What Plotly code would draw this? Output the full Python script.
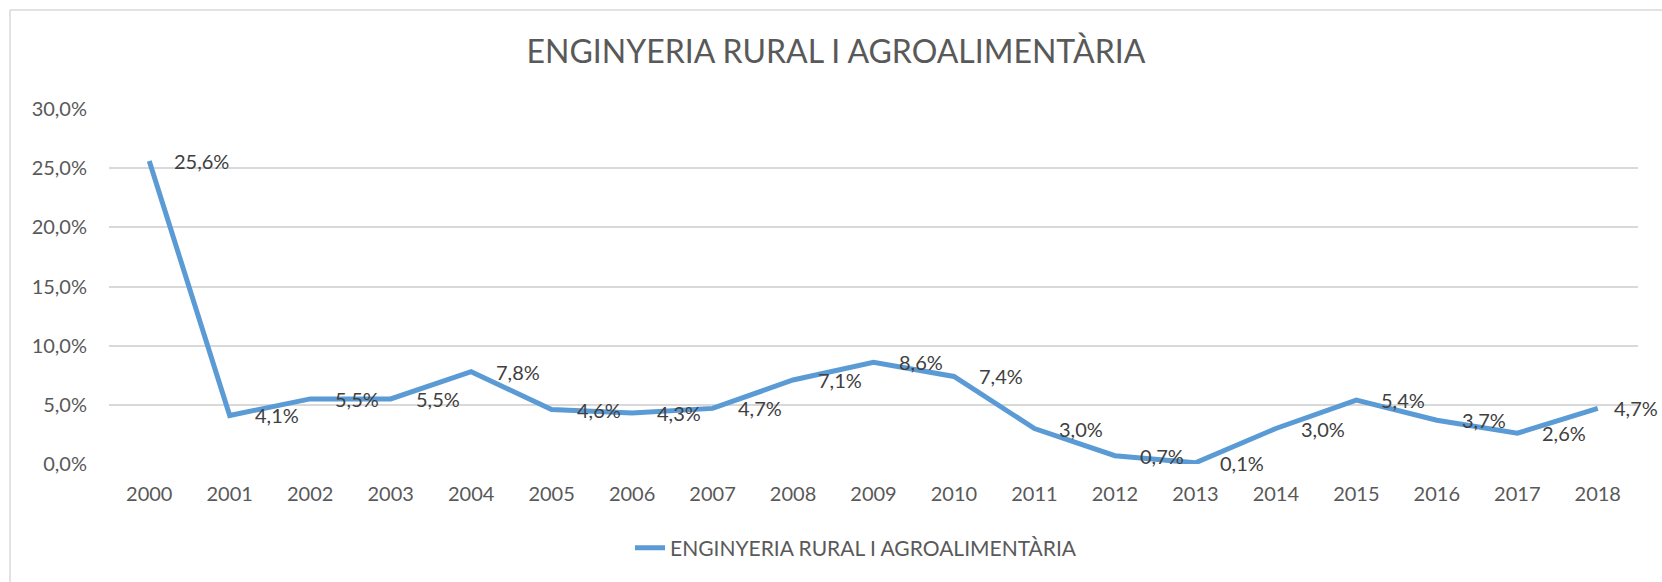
import plotly.graph_objects as go

years = list(range(2000, 2019))
values = [25.6, 4.1, 5.5, 5.5, 7.8, 4.6, 4.3, 4.7, 7.1, 8.6, 7.4, 3.0, 0.7, 0.1, 3.0, 5.4, 3.7, 2.6, 4.7]
labels = [f"{v:.1f}%".replace(".", ",") for v in values]
series_name = "ENGINYERIA RURAL I AGROALIMENTÀRIA"
y_ticks = [0, 5, 10, 15, 20, 25, 30]
y_tick_text = [f"{t:.1f}%".replace(".", ",") for t in y_ticks]

W, H = 1662, 582
L, R, T, B = 109, 24, 109, 118
pw, ph = W - L - R, H - T - B

def px(x):
    return (x - L) / pw

def py(y):
    return (H - B - y) / ph

FONT = "Lato"
fig = go.Figure()
fig.add_trace(go.Scatter(
    x=years, y=values, mode="lines", name=series_name,
    line=dict(color="#5B9BD5", width=5),
    hoverinfo="skip",
))

n = len(years)
for i, (yr, v, t) in enumerate(zip(years, values, labels)):
    fig.add_annotation(x=yr, y=v, text=t, showarrow=False, xanchor="left",
                       yanchor="middle", xshift=(14 if i == n - 1 else 23),
                       font=dict(family=FONT, size=20, color="#404040"))

fig.update_layout(
    width=W, height=H,
    margin=dict(l=L, r=R, t=T, b=B),
    paper_bgcolor="white", plot_bgcolor="white",
    title=dict(text=series_name, x=0.503, xanchor="center", y=1 - 52 / H, yanchor="middle",
               font=dict(family=FONT, size=32, color="#595959")),
    xaxis=dict(range=[1999.5, 2018.5], tickvals=years, ticktext=[str(y) for y in years],
               showgrid=False, showline=False, zeroline=False,
               tickfont=dict(family=FONT, size=20, color="#595959"),
               ticklabelstandoff=16),
    yaxis=dict(range=[0, 30], tickvals=y_ticks, ticktext=y_tick_text,
               showgrid=True, gridcolor="#D9D9D9", gridwidth=1.5, zeroline=False,
               showline=False,
               tickfont=dict(family=FONT, size=20, color="#595959"),
               ticklabelstandoff=21),
    showlegend=True,
    legend=dict(orientation="h", x=px(630), xanchor="left", y=py(548), yanchor="middle",
                font=dict(family=FONT, size=21, color="#595959")),
    shapes=[
        dict(type="line", xref="paper", yref="paper", x0=px(10), x1=px(1700), y0=py(10), y1=py(10),
             line=dict(color="#D9D9D9", width=1.5)),
        dict(type="line", xref="paper", yref="paper", x0=px(10), x1=px(10), y0=py(10), y1=py(620),
             line=dict(color="#D9D9D9", width=1.5)),
    ],
)

fig.write_html("out.html", config={"displayModeBar": False},
               post_script="document.body.style.margin='0';document.body.style.overflow='hidden';")
